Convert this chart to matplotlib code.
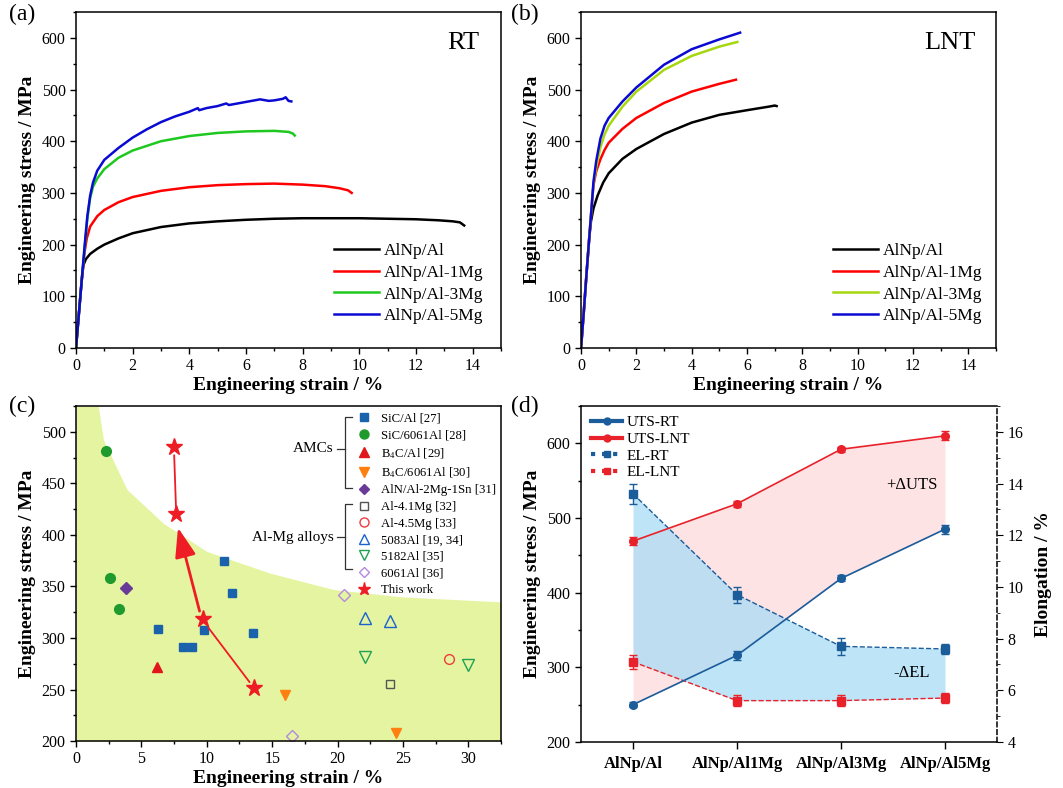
import matplotlib
matplotlib.use("Agg")
import matplotlib.pyplot as plt
from matplotlib.lines import Line2D
from matplotlib.ticker import MultipleLocator

plt.rcParams['font.family'] = ['Liberation Serif', 'DejaVu Serif']
plt.rcParams['mathtext.fontset'] = 'stix'

# ---- (a) room temperature tensile curves (strain %, stress MPa)
rt_al_x = [0, 0.1, 0.2, 0.26, 0.35, 0.5, 0.75, 1.0, 1.5, 2.0, 3.0, 4.0, 5.0, 6.0, 7.0, 8.0, 9.0, 10.0, 11.0, 12.0, 12.8, 13.3, 13.55, 13.7]
rt_al_y = [0, 65, 130, 160, 172, 182, 192, 200, 212, 222, 234, 241, 245, 248, 250, 251, 251, 251, 250, 249, 247, 245, 243, 237]
rt_1mg_x = [0, 0.2, 0.3, 0.38, 0.5, 0.75, 1.0, 1.5, 2.0, 3.0, 4.0, 5.0, 6.0, 7.0, 8.0, 8.8, 9.3, 9.6, 9.73]
rt_1mg_y = [0, 130, 185, 212, 235, 255, 267, 282, 292, 304, 311, 315, 317, 318, 316, 313, 309, 305, 300]
rt_3mg_x = [0, 0.2, 0.3, 0.4, 0.5, 0.6, 0.75, 1.0, 1.5, 2.0, 3.0, 4.0, 5.0, 6.0, 7.0, 7.5, 7.65, 7.72]
rt_3mg_y = [0, 130, 190, 250, 290, 312, 328, 346, 368, 382, 400, 410, 416, 419, 420, 418, 415, 411]
rt_5mg_x = [0, 0.2, 0.3, 0.4, 0.5, 0.6, 0.75, 1.0, 1.5, 2.0, 2.5, 3.0, 3.5, 4.0, 4.3, 4.35, 4.6, 5.0, 5.3, 5.4,
            5.7, 6.0, 6.5, 6.8, 7.0, 7.3, 7.4, 7.5, 7.6]
rt_5mg_y = [0, 130, 195, 255, 295, 320, 343, 364, 387, 407, 423, 437, 448, 457, 464, 460, 464, 468, 473, 470,
            473, 476, 481, 478, 479, 482, 485, 478, 477]

# ---- (b) liquid nitrogen temperature tensile curves
lnt_al_x = [0, 0.1, 0.2, 0.3, 0.36, 0.45, 0.6, 0.8, 1.0, 1.5, 2.0, 3.0, 4.0, 5.0, 6.0, 6.8, 7.0, 7.07]
lnt_al_y = [0, 70, 145, 215, 245, 270, 295, 320, 338, 366, 385, 414, 436, 451, 460, 467, 469, 468]
lnt_1mg_x = [0, 0.1, 0.2, 0.3, 0.4, 0.45, 0.55, 0.7, 0.85, 1.0, 1.5, 2.0, 3.0, 4.0, 5.0, 5.6]
lnt_1mg_y = [0, 70, 145, 215, 285, 315, 342, 365, 383, 397, 424, 445, 474, 496, 511, 519]
lnt_3mg_x = [0, 0.1, 0.2, 0.3, 0.4, 0.45, 0.55, 0.7, 0.85, 1.0, 1.5, 2.0, 3.0, 4.0, 5.0, 5.65]
lnt_3mg_y = [0, 70, 145, 215, 285, 318, 350, 388, 413, 430, 467, 496, 538, 565, 583, 592]
lnt_5mg_x = [0, 0.1, 0.2, 0.3, 0.4, 0.45, 0.55, 0.7, 0.85, 1.0, 1.5, 2.0, 3.0, 4.0, 5.0, 5.75]
lnt_5mg_y = [0, 70, 145, 215, 285, 322, 362, 405, 430, 445, 477, 504, 548, 578, 597, 610]

curve_labels = ['AlNp/Al', 'AlNp/Al-1Mg', 'AlNp/Al-3Mg', 'AlNp/Al-5Mg']

# ---- (c) Ashby-type comparison (elongation %, UTS MPa)
sic_al_x = [6.3, 8.2, 8.9, 9.8, 11.3, 11.9, 13.5]
sic_al_y = [309, 291, 291, 308, 375, 344, 305]
sic_6061_x = [2.3, 2.6, 3.3]
sic_6061_y = [481, 358, 328]
b4c_al_x = [6.2]
b4c_al_y = [272]
b4c_6061_x = [16.0, 24.5]
b4c_6061_y = [245, 208]
aln_sn_x = [3.8]
aln_sn_y = [348]
al41_x = [24.0]
al41_y = [255]
al45_x = [28.5]
al45_y = [280]
a5083_x = [22.1, 24.0]
a5083_y = [319, 316]
a5182_x = [22.1, 30.0]
a5182_y = [282, 274]
a6061_x = [16.5, 20.5]
a6061_y = [205, 342]
work_x = [7.5, 7.65, 9.7, 13.6]
work_y = [485, 420, 318, 251]
# upper boundary of the shaded region
band_x = [0, 1.7, 2.1, 3.9, 6.7, 10.0, 14.8, 19.7, 24.8, 32.5]
band_y = [525, 525, 492, 444, 411, 384, 363, 347, 340, 335]

# ---- (d) summary
alloys = ['AlNp/Al', 'AlNp/Al1Mg', 'AlNp/Al3Mg', 'AlNp/Al5Mg']
uts_rt = [250, 316, 419, 485]
uts_rt_err = [3, 6, 4, 6]
uts_lnt = [469, 519, 592, 610]
uts_lnt_err = [5, 4, 3, 6]
el_rt = [13.6, 9.7, 7.7, 7.6]
el_rt_err = [0.39, 0.31, 0.32, 0.21]
el_lnt = [7.1, 5.6, 5.6, 5.7]
el_lnt_err = [0.28, 0.2, 0.2, 0.2]

fig = plt.figure(figsize=(10.63, 7.88), dpi=100)

tick_fs = 11.5
lab_fs = 14


def style_axes(ax):
    ax.tick_params(which='both', direction='out', labelsize=tick_fs, top=False, right=False)
    ax.tick_params(which='major', length=4, width=1)
    ax.tick_params(which='minor', length=2.5, width=1)
    for s in ax.spines.values():
        s.set_linewidth(1.1)


# (a) and (b)
for pos, data, cols, tag in [
    ([0.0715, 0.5584, 0.3998, 0.4264],
     [(rt_al_x, rt_al_y), (rt_1mg_x, rt_1mg_y), (rt_3mg_x, rt_3mg_y), (rt_5mg_x, rt_5mg_y)],
     ['black', '#ff0000', '#1ec81e', '#0a0ad2'], 'RT'),
    ([0.5466, 0.5584, 0.3904, 0.4264],
     [(lnt_al_x, lnt_al_y), (lnt_1mg_x, lnt_1mg_y), (lnt_3mg_x, lnt_3mg_y), (lnt_5mg_x, lnt_5mg_y)],
     ['black', '#ff0000', '#a6d70f', '#0a0ad2'], 'LNT')]:
    ax = fig.add_axes(pos)
    for (x, y), c, lab in zip(data, cols, curve_labels):
        ax.plot(x, y, color=c, lw=1.8, label=lab)
    ax.set_xlim(0, 15)
    ax.set_ylim(0, 650)
    ax.xaxis.set_major_locator(MultipleLocator(2))
    ax.xaxis.set_minor_locator(MultipleLocator(1))
    ax.yaxis.set_major_locator(MultipleLocator(100))
    ax.yaxis.set_minor_locator(MultipleLocator(50))
    style_axes(ax)
    ax.set_xlabel('Engineering strain / %', fontsize=lab_fs, fontweight='bold', labelpad=2)
    ax.set_ylabel('Engineering stress / MPa', fontsize=lab_fs, fontweight='bold', labelpad=4)
    ax.text(0.95, 0.94, tag, transform=ax.transAxes, ha='right', va='top', fontsize=19)
    ax.legend(loc='lower left', bbox_to_anchor=(0.59, 0.05), frameon=False, fontsize=12.5,
              handlelength=2.6, handletextpad=0.3, labelspacing=0.32, borderaxespad=0)

# (c)
axc = fig.add_axes([0.0715, 0.0596, 0.3998, 0.4251])
axc.fill_between(band_x, band_y, [200] * len(band_x), color='#e4f4a0', lw=0, zorder=0)
ms = 6
axc.plot(sic_al_x, sic_al_y, 's', color='#1b62ad', ms=ms)
axc.plot(sic_6061_x, sic_6061_y, 'o', color='#1f9a2c', ms=ms + 1)
axc.plot(b4c_al_x, b4c_al_y, '^', color='#e0161c', ms=ms + 1)
axc.plot(b4c_6061_x, b4c_6061_y, 'v', color='#ff7f10', ms=ms + 1)
axc.plot(aln_sn_x, aln_sn_y, 'D', color='#6a3a98', ms=ms)
axc.plot(al41_x, al41_y, 's', mfc='none', mec='#555555', ms=ms)
axc.plot(al45_x, al45_y, 'o', mfc='none', mec='#f03c3c', ms=ms + 1)
axc.plot(a5083_x, a5083_y, '^', mfc='none', mec='#1a62d0', ms=ms + 2)
axc.plot(a5182_x, a5182_y, 'v', mfc='none', mec='#21a155', ms=ms + 2)
axc.plot(a6061_x, a6061_y, 'D', mfc='none', mec='#b48ade', ms=ms)
axc.annotate('', xy=(work_x[2] + 0.3, work_y[2] - 6), xytext=(work_x[3] - 0.2, work_y[3] + 4),
             arrowprops=dict(arrowstyle='-', color='#ee1c24', lw=1.3))
axc.annotate('', xy=(work_x[1] + 0.15, work_y[1] - 13), xytext=(work_x[2] - 0.25, work_y[2] + 8),
             arrowprops=dict(arrowstyle='-|>,head_length=0.9,head_width=0.32', color='#ee1c24',
                             lw=2, mutation_scale=20, shrinkA=0, shrinkB=0))
axc.annotate('', xy=(work_x[1], work_y[1] + 5), xytext=(work_x[0], work_y[0] - 5),
             arrowprops=dict(arrowstyle='-', color='#ee1c24', lw=1.3))
axc.plot(work_x, work_y, '*', color='#ee1c24', ms=12.5)
axc.set_xlim(0, 32.5)
axc.set_ylim(200, 525)
axc.xaxis.set_major_locator(MultipleLocator(5))
axc.xaxis.set_minor_locator(MultipleLocator(2.5))
axc.yaxis.set_major_locator(MultipleLocator(50))
axc.yaxis.set_minor_locator(MultipleLocator(25))
style_axes(axc)
axc.set_xlabel('Engineering strain / %', fontsize=lab_fs, fontweight='bold', labelpad=2)
axc.set_ylabel('Engineering stress / MPa', fontsize=lab_fs, fontweight='bold', labelpad=4)
lm = 5.5
leg_c = [
    (Line2D([], [], ls='none', marker='s', color='#1b62ad', ms=lm), 'SiC/Al [27]'),
    (Line2D([], [], ls='none', marker='o', color='#1f9a2c', ms=lm + 1), 'SiC/6061Al [28]'),
    (Line2D([], [], ls='none', marker='^', color='#e0161c', ms=lm + 1), 'B$_4$C/Al [29]'),
    (Line2D([], [], ls='none', marker='v', color='#ff7f10', ms=lm + 1), 'B$_4$C/6061Al [30]'),
    (Line2D([], [], ls='none', marker='D', color='#6a3a98', ms=lm), 'AlN/Al-2Mg-1Sn [31]'),
    (Line2D([], [], ls='none', marker='s', mfc='none', mec='#555555', ms=lm), 'Al-4.1Mg [32]'),
    (Line2D([], [], ls='none', marker='o', mfc='none', mec='#f03c3c', ms=lm + 1), 'Al-4.5Mg [33]'),
    (Line2D([], [], ls='none', marker='^', mfc='none', mec='#1a62d0', ms=lm + 1.5), '5083Al [19, 34]'),
    (Line2D([], [], ls='none', marker='v', mfc='none', mec='#21a155', ms=lm + 1.5), '5182Al [35]'),
    (Line2D([], [], ls='none', marker='D', mfc='none', mec='#b48ade', ms=lm), '6061Al [36]'),
    (Line2D([], [], ls='none', marker='*', color='#ee1c24', ms=lm + 4), 'This work'),
]
axc.legend([a for a, b in leg_c], [b for a, b in leg_c], loc='upper left', bbox_to_anchor=(0.648, 0.995),
           frameon=False, fontsize=9.2, handlelength=1.2, handletextpad=0.7, labelspacing=0.36, borderaxespad=0)
# brackets next to the legend
bx = 0.633
for y0, y1, ym, txt in [(0.968, 0.755, 0.872, 'AMCs'), (0.707, 0.513, 0.609, 'Al-Mg alloys')]:
    axc.plot([bx + 0.016, bx, bx, bx + 0.016], [y0, y0, y1, y1], color='#333333', lw=0.9,
             transform=axc.transAxes, clip_on=False)
    axc.plot([bx - 0.02, bx], [ym, ym], color='#333333', lw=0.9, transform=axc.transAxes)
    axc.text(bx - 0.027, ym, txt, transform=axc.transAxes, ha='right', va='center', fontsize=11)

# (d)
pos_d = [0.5466, 0.0584, 0.3913, 0.4264]
axd = fig.add_axes(pos_d)
axe = axd.twinx()
axu = fig.add_axes(pos_d, sharex=axd, sharey=axd)
axu.patch.set_visible(False)
axu.axis('off')
xs = list(range(len(alloys)))
blue = '#1b5c9b'
red = '#e8212a'
axd.fill_between(xs, uts_rt, uts_lnt, color='#fde3e3', lw=0)
axe.fill_between(xs, el_rt, el_lnt, color='#a9dcf5', alpha=0.75, lw=0)
axe.errorbar(xs, el_rt, yerr=el_rt_err, color=blue, ls='--', lw=1, marker='s', ms=5.5, capsize=3, elinewidth=1)
axe.errorbar(xs, el_lnt, yerr=el_lnt_err, color=red, ls='--', lw=1, marker='s', ms=5.5, capsize=3, elinewidth=1)
axu.errorbar(xs, uts_rt, yerr=uts_rt_err, color=blue, ls='-', lw=1.2, marker='o', ms=5.5, capsize=3, elinewidth=1)
axu.errorbar(xs, uts_lnt, yerr=uts_lnt_err, color=red, ls='-', lw=1.2, marker='o', ms=5.5, capsize=3, elinewidth=1)
axd.set_xlim(-0.5, 3.5)
axd.set_ylim(200, 650)
axe.set_ylim(4, 17)
axd.set_xticks(xs)
axd.set_xticklabels(alloys, fontsize=12, fontweight='bold')
axd.yaxis.set_major_locator(MultipleLocator(100))
axd.yaxis.set_minor_locator(MultipleLocator(50))
style_axes(axd)
axd.tick_params(axis='x', labelsize=12, length=5, pad=5)
axd.spines['right'].set_visible(False)
axe.yaxis.set_major_locator(MultipleLocator(2))
axe.yaxis.set_minor_locator(MultipleLocator(1))
axe.tick_params(which='both', direction='out', labelsize=tick_fs)
axe.tick_params(which='major', length=4)
axe.tick_params(which='minor', length=2.5)
axe.spines['right'].set_linestyle((0, (3, 2)))
axe.spines['right'].set_linewidth(1.1)
for s in ['left', 'top', 'bottom']:
    axe.spines[s].set_visible(False)
axd.set_ylabel('Engineering stress / MPa', fontsize=lab_fs, fontweight='bold', labelpad=4)
axe.set_ylabel('Elongation / %', fontsize=lab_fs, fontweight='bold', labelpad=8)
axu.text(2.68, 544, '+\u0394UTS', ha='center', va='center', fontsize=12)
axu.text(2.68, 292, '-\u0394EL', ha='center', va='center', fontsize=12)
leg_h = [Line2D([], [], color=blue, lw=3, marker='o', ms=5),
         Line2D([], [], color=red, lw=3, marker='o', ms=5),
         Line2D([], [], color=blue, lw=3, ls=':', marker='s', ms=5),
         Line2D([], [], color=red, lw=3, ls=':', marker='s', ms=5)]
axu.legend(leg_h, ['UTS-RT', 'UTS-LNT', 'EL-RT', 'EL-LNT'], loc='upper left', bbox_to_anchor=(0.01, 0.99),
           frameon=False, fontsize=11, handlelength=2.0, handletextpad=0.3, labelspacing=0.2, borderaxespad=0)

for x, y, t in [(0.008, 0.995, '(a)'), (0.481, 0.995, '(b)'), (0.008, 0.497, '(c)'), (0.481, 0.497, '(d)')]:
    fig.text(x, y, t, ha='left', va='top', fontsize=17)

fig.savefig('out.png', dpi=100)
